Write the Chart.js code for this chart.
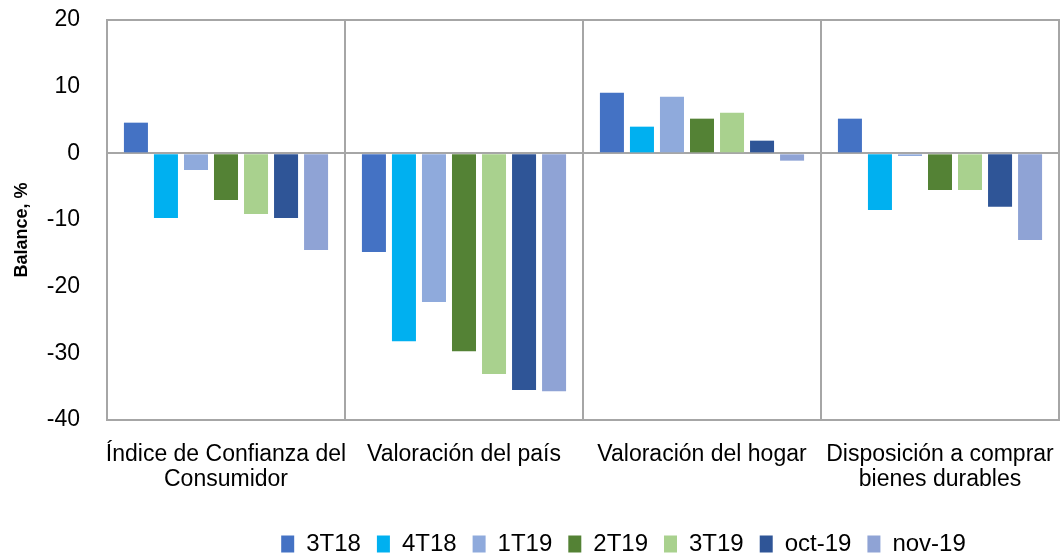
<!DOCTYPE html>
<html>
<head>
<meta charset="utf-8">
<script src="https://cdn.jsdelivr.net/npm/chart.js@4.4.1/dist/chart.umd.min.js"></script>
<style>
    html, body { margin: 0; padding: 0; background: #fff; }
    #wrap { width: 1061px; height: 554px; }
</style>
</head>
<body>
<div id="wrap"><canvas id="balanceChart" width="1061" height="554"></canvas></div>
<script>
const categories = [
    ['Índice de Confianza del', 'Consumidor'],
    'Valoración del país',
    'Valoración del hogar',
    ['Disposición a comprar', 'bienes durables']
];
const seriesNames = ['3T18', '4T18', '1T19', '2T19', '3T19', 'oct-19', 'nov-19'];
const values3T18 = [4.6, -14.8, 9.1, 5.2];
const values4T18 = [-9.7, -28.2, 4.0, -8.5];
const values1T19 = [-2.5, -22.3, 8.5, -0.4];
const values2T19 = [-7.0, -29.7, 5.2, -5.5];
const values3T19 = [-9.1, -33.1, 6.1, -5.5];
const valuesOct19 = [-9.7, -35.5, 1.9, -8.0];
const valuesNov19 = [-14.5, -35.7, -1.1, -13.0];
const yTicks = [20, 10, 0, -10, -20, -30, -40];

const seriesValues = [values3T18, values4T18, values1T19, values2T19, values3T19, valuesOct19, valuesNov19];
const colors = ['#4472C4', '#00B0F0', '#8FAADC', '#548235', '#A9D18E', '#2F5597', '#8FA3D5'];
const gridGrey = '#A6A6A6';
const fontFamily = '"Liberation Sans", Arial, sans-serif';

// box around the plot area
const frame = {
    id: 'frame',
    afterDatasetsDraw (chart) {
        const { ctx, chartArea: a } = chart;
        ctx.save();
        ctx.strokeStyle = gridGrey;
        ctx.lineWidth = 2;
        ctx.strokeRect(a.left, a.top, a.right - a.left, a.bottom - a.top);
        ctx.restore();
    }
};

// the legend in the original sits right of centre
const legendShift = {
    id: 'legendShift',
    afterLayout (chart) {
        chart.legend.left += 94;
        chart.legend.right += 94;
    }
};

new Chart(document.getElementById('balanceChart'), {
    type: 'bar',
    data: {
        labels: categories,
        datasets: seriesNames.map((name, i) => ({
            label: name,
            data: seriesValues[i],
            backgroundColor: colors[i],
            borderWidth: 0,
            categoryPercentage: 0.883,
            barPercentage: 0.8
        }))
    },
    plugins: [frame, legendShift],
    options: {
        responsive: false,
        animation: false,
        layout: { padding: { top: 20, right: 2, left: 0, bottom: -12 } },
        plugins: {
            tooltip: { enabled: false },
            legend: {
                position: 'bottom',
                labels: {
                    font: { family: fontFamily, size: 24 },
                    color: '#000',
                    boxWidth: 13,
                    boxHeight: 17,
                    padding: 16
                }
            }
        },
        scales: {
            x: {
                afterFit: (s) => {
                    s.height = 96;
                    s.paddingLeft = 0;
                    s.paddingRight = 0;
                },
                grid: { offset: true, color: gridGrey, lineWidth: 2, drawTicks: false },
                border: { display: false },
                ticks: {
                    color: '#000',
                    font: { family: fontFamily, size: 23, lineHeight: 1.1 },
                    padding: 22,
                    maxRotation: 0,
                    autoSkip: false
                }
            },
            y: {
                min: -40,
                max: 20,
                afterFit: (s) => {
                    s.width = 107;
                    s.paddingTop = 0;
                    s.paddingBottom = 0;
                },
                afterBuildTicks: (s) => { s.ticks = yTicks.map(v => ({ value: v })); },
                grid: {
                    color: (c) => c.tick && c.tick.value === 0 ? gridGrey : 'rgba(0,0,0,0)',
                    lineWidth: 2,
                    drawTicks: false
                },
                border: { display: false },
                ticks: {
                    color: '#000',
                    font: { family: fontFamily, size: 23 },
                    padding: 27
                },
                title: {
                    display: true,
                    text: 'Balance, %    ',
                    color: '#000',
                    font: { family: fontFamily, size: 18, weight: 'bold' },
                    padding: { top: 11, bottom: 0 }
                }
            }
        }
    }
});
</script>
</body>
</html>
